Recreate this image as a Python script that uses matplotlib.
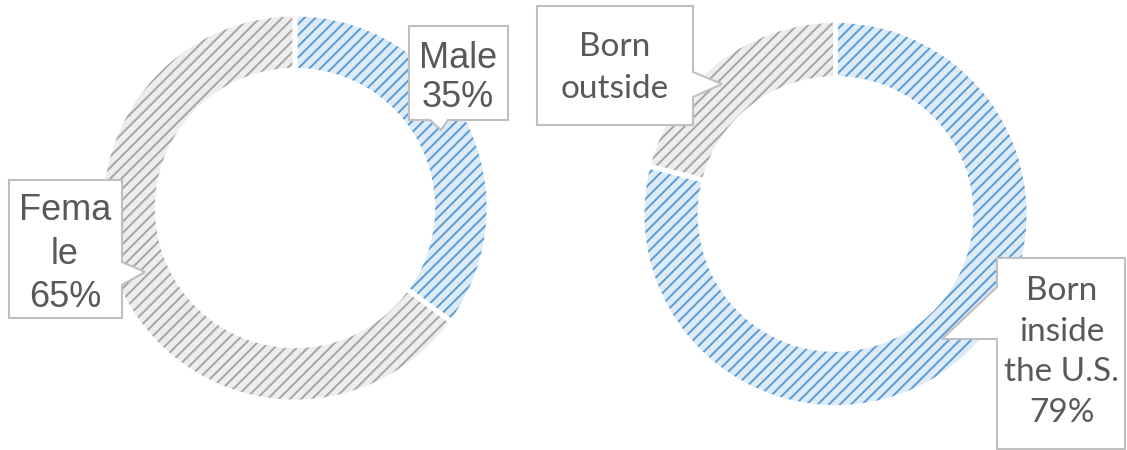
"""Two hatched donut charts: gender split and place of birth."""
import matplotlib
matplotlib.use("Agg")
import matplotlib.pyplot as plt
from matplotlib.patches import Polygon

# --- data ---
gender_labels = ["Male", "Fema\nle"]
gender_values = [35, 65]
birth_labels = ["Born\ninside\nthe U.S.", "Born\noutside"]
birth_values = [79, 21]

W, H = 1127, 450
BLUE_FILL, BLUE_HATCH = "#DDEBF7", "#5B9BD5"
GREY_FILL, GREY_HATCH = "#EDEDED", "#A5A5A5"
TEXT = "#595959"
BORDER = "#BFBFBF"

plt.rcParams["hatch.linewidth"] = 1.4

fig = plt.figure(figsize=(W / 100, H / 100), dpi=100)


def donut(rect, values, ring=0.29):
    ax = fig.add_axes([rect[0] / W, 1 - (rect[1] + rect[3]) / H, rect[2] / W, rect[3] / H])
    wedges, _ = ax.pie(values, startangle=90, counterclock=False,
                       colors=[BLUE_FILL, GREY_FILL],
                       wedgeprops=dict(width=ring, linewidth=0))
    for w, hc in zip(wedges, [BLUE_HATCH, GREY_HATCH]):
        w.set_hatch("///")
        w.set_edgecolor(hc)
    # white separators between slices
    ax.pie(values, startangle=90, counterclock=False,
           wedgeprops=dict(width=ring, fill=False, edgecolor="white", linewidth=3.5))
    ax.set_xlim(-1, 1)
    ax.set_ylim(-1, 1)
    ax.set_aspect("equal")
    ax.axis("off")
    return ax


donut((101, 13, 388, 390), gender_values)
donut((642, 20, 387, 388), birth_values, ring=0.30)

# overlay in pixel coordinates for the callouts
ov = fig.add_axes([0, 0, 1, 1], zorder=5)
ov.set_xlim(0, W)
ov.set_ylim(H, 0)
ov.axis("off")


def callout(points, text, xy, family, size, spacing):
    ov.add_patch(Polygon(points, closed=True, facecolor="white",
                         edgecolor=BORDER, linewidth=1.5))
    ov.text(xy[0], xy[1], text, ha="center", va="center", color=TEXT,
            fontsize=size, family=family, linespacing=spacing)


callout([(409, 26), (508, 26), (508, 120), (448, 120), (441, 130), (430, 120), (409, 120)],
        f"{gender_labels[0]}\n{gender_values[0]}%", (458, 78), "Liberation Sans", 26, 1.15)
callout([(9, 180), (122, 180), (122, 262), (145, 272), (122, 285), (122, 318), (9, 318)],
        f"{gender_labels[1]}\n{gender_values[1]}%", (65, 254), "Liberation Sans", 26, 1.3)
callout([(537, 6), (693, 6), (693, 72), (722, 84), (693, 97), (693, 125), (537, 125)],
        birth_labels[1], (615, 68), "Lato", 24, 1.5)
callout([(997, 258), (1125, 258), (1125, 449), (997, 449), (997, 339), (942, 339), (997, 287)],
        f"{birth_labels[0]}\n{birth_values[0]}%", (1062, 352), "Lato", 24, 1.45)

fig.savefig("out.png", dpi=100)
